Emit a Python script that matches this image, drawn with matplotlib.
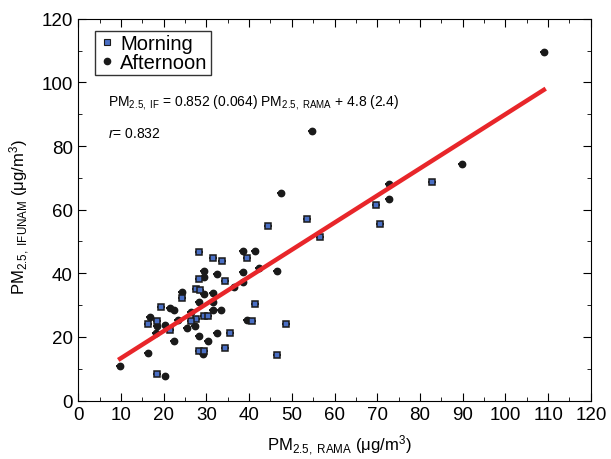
import numpy as np
import matplotlib
matplotlib.use("Agg")
import matplotlib.pyplot as plt
from matplotlib.ticker import MultipleLocator
from matplotlib.lines import Line2D

plt.rcParams['font.family'] = ['Liberation Sans', 'DejaVu Sans']
plt.rcParams['mathtext.fontset'] = 'custom'
plt.rcParams['mathtext.rm'] = 'Liberation Sans'
plt.rcParams['mathtext.it'] = 'Liberation Sans:italic'

# PM2.5 RAMA (x) vs PM2.5 IFUNAM (y), ug/m3
morning_x = [44.4, 28.3, 31.6, 33.7, 39.5, 28.3, 34.4, 27.6, 28.5, 24.3,
             19.4, 41.4, 18.5, 27.6, 26.4, 29.5, 30.4, 40.7, 16.4, 48.7,
             21.5, 35.6, 34.4, 28.3, 29.5, 46.6, 18.5, 82.8, 69.7, 53.6,
             56.6, 70.6]
morning_y = [54.8, 46.6, 44.7, 43.8, 44.7, 38.1, 37.5, 35.0, 34.7, 32.2,
             29.3, 30.3, 25.0, 25.6, 25.0, 26.5, 26.5, 25.0, 24.0, 24.0,
             22.1, 21.2, 16.5, 15.5, 15.5, 14.3, 8.3, 68.8, 61.6, 57.2,
             51.3, 55.4]

afternoon_x = [38.6, 41.4, 29.5, 32.5, 38.6, 42.3, 46.6, 29.5, 38.6, 36.5,
               24.3, 29.5, 31.6, 28.3, 31.6, 21.5, 22.5, 26.4, 31.6, 33.5,
               16.8, 23.4, 39.5, 18.5, 20.4, 25.5, 27.4, 18.2, 28.3, 32.5,
               22.5, 30.4, 29.2, 16.4, 9.8, 20.4, 47.5, 72.7, 72.7, 109.0,
               89.8, 54.7]
afternoon_y = [46.9, 46.9, 40.6, 39.7, 40.3, 41.6, 40.6, 38.7, 37.2, 35.6,
               34.0, 33.4, 33.7, 30.9, 30.9, 29.0, 28.4, 27.8, 28.4, 28.4,
               26.2, 25.3, 25.3, 23.4, 23.7, 22.8, 23.4, 21.2, 20.2, 21.2,
               18.7, 18.7, 14.6, 14.9, 10.8, 7.7, 65.1, 68.2, 63.5, 109.7,
               74.5, 84.8]

slope, intercept = 0.852, 4.8

fig = plt.figure(figsize=(6.11, 4.6), dpi=100)
ax = fig.add_axes([0.128, 0.127, 0.839, 0.830])

ax.errorbar(afternoon_x, afternoon_y, xerr=0.9, fmt='o', ms=4.6,
            color='#1a1a1a', mec='#1a1a1a', ecolor='#1a1a1a', elinewidth=1.4,
            capsize=0, zorder=3)
ax.errorbar(morning_x, morning_y, xerr=0.9, fmt='s', ms=4.0,
            mfc='#4a6fc4', mec='#1a1a1a', mew=1.1, ecolor='#1a1a1a',
            elinewidth=1.4, capsize=0, zorder=4)

all_x = np.array(morning_x + afternoon_x)
xf = np.array([all_x.min(), all_x.max()])
ax.plot(xf, slope * xf + intercept, color='#e8262a', lw=3.2, zorder=5)

ax.set_xlim(0, 120)
ax.set_ylim(0, 120)
ax.xaxis.set_major_locator(MultipleLocator(10))
ax.xaxis.set_minor_locator(MultipleLocator(5))
ax.yaxis.set_major_locator(MultipleLocator(20))
ax.yaxis.set_minor_locator(MultipleLocator(10))
ax.tick_params(which='both', direction='in', top=True, right=True, labelsize=13.5)
ax.tick_params(which='major', length=6, pad=4)
ax.tick_params(which='minor', length=3)

ax.set_xlabel(r'PM$_{\mathregular{2.5,\ RAMA}}$ ($\mathregular{\mu}$g/m$^{\mathregular{3}}$)', fontsize=12)
ax.set_ylabel(r'PM$_{\mathregular{2.5,\ IFUNAM}}$ ($\mathregular{\mu}$g/m$^{\mathregular{3}}$)', fontsize=12)
ax.xaxis.set_label_coords(0.51, -0.085)
ax.yaxis.set_label_coords(-0.091, 0.483)

ax.text(7, 93, r'PM$_{\mathregular{2.5,\ IF}}$ = 0.852 (0.064) PM$_{\mathregular{2.5,\ RAMA}}$ + 4.8 (2.4)',
        fontsize=10)
ax.text(7, 83, r'$r$= 0.832', fontsize=10)

handles = [
    Line2D([], [], ls='none', marker='s', ms=4, mfc='#4a6fc4', mec='#1a1a1a', mew=0.8),
    Line2D([], [], ls='none', marker='o', ms=4.5, color='#1a1a1a'),
]
leg = ax.legend(handles, ['Morning', 'Afternoon'], loc='upper left', fontsize=14.5,
                frameon=True, fancybox=False, edgecolor='black',
                handletextpad=0.2, handlelength=0.9, borderpad=0.15,
                labelspacing=0.0, borderaxespad=0.4,
                bbox_to_anchor=(0.017, 0.99))
leg.get_frame().set_linewidth(1.0)

fig.savefig('out.png', dpi=100)
